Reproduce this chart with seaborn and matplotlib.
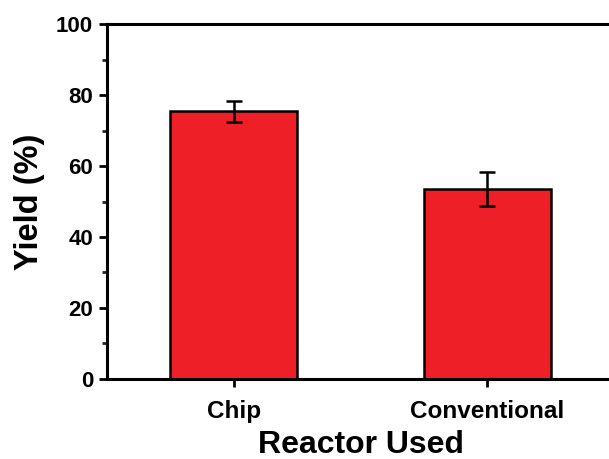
import numpy as np
import matplotlib
matplotlib.use("Agg")
import matplotlib.pyplot as plt
import seaborn as sns
import pandas as pd
from matplotlib.ticker import MultipleLocator

reactors = ["Chip", "Conventional"]
yield_pct = [75.4, 53.5]
yield_err = [3.0, 4.9]

df = pd.DataFrame({"reactor": reactors, "yield": yield_pct})

sns.set_style("ticks")
plt.rcParams['font.family'] = ['Liberation Sans', 'DejaVu Sans']
plt.rcParams['font.weight'] = 'bold'
plt.rcParams['text.color'] = 'black'
plt.rcParams['axes.labelcolor'] = 'black'

fig = plt.figure(figsize=(6.09, 4.59), dpi=100)
ax = fig.add_axes([0.1757, 0.1743, 0.8325, 0.7734])

sns.barplot(data=df, x="reactor", y="yield", color="#EE1F26", saturation=1,
            width=0.5, edgecolor="black", linewidth=1.8, errorbar=None, ax=ax)
ax.errorbar(np.arange(len(reactors)), yield_pct, yerr=yield_err, fmt="none",
            ecolor="black", elinewidth=1.8, capsize=5.6, capthick=1.8)

ax.set_xlim(-0.5, 1.5)
ax.set_ylim(0, 100)
ax.yaxis.set_major_locator(MultipleLocator(20))
ax.yaxis.set_minor_locator(MultipleLocator(10))

for s in ax.spines.values():
    s.set_linewidth(2.2)
    s.set_color("black")

ax.tick_params(axis="both", which="major", direction="out", length=6, width=2,
               colors="black")
ax.tick_params(axis="y", which="major", labelsize=16, pad=4)
ax.tick_params(axis="x", which="major", labelsize=17.5, pad=9)
ax.tick_params(axis="y", which="minor", direction="out", length=3.5, width=2)
ax.tick_params(axis="x", which="minor", bottom=False)
for lab in ax.get_xticklabels() + ax.get_yticklabels():
    lab.set_fontweight("bold")

ax.set_xlabel("Reactor Used", fontsize=23, fontweight="bold", labelpad=5)
ax.set_ylabel("Yield (%)", fontsize=23.5, fontweight="bold", labelpad=8)

fig.savefig("out.png", dpi=100)
